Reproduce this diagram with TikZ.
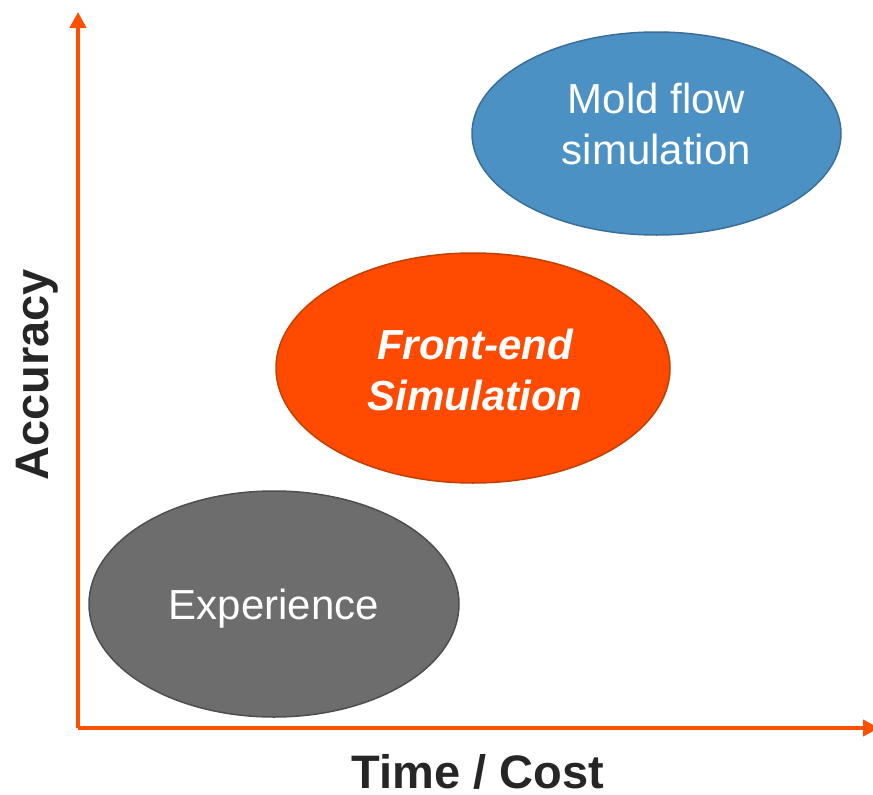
\documentclass[tikz,border=0pt]{standalone}
\usepackage{fontspec}
\setmainfont{Liberation Sans}
\usetikzlibrary{shapes.geometric,arrows.meta}
\definecolor{axisorange}{HTML}{FF5000}
\definecolor{moldblue}{HTML}{4B91C3}
\definecolor{moldedge}{HTML}{3B6E98}
\definecolor{frontorange}{HTML}{FF4A00}
\definecolor{frontedge}{HTML}{C24000}
\definecolor{expgrey}{HTML}{6D6D6D}
\definecolor{expedge}{HTML}{4E4E4E}
\tikzset{
  axis/.style={draw=axisorange, line width=4pt, -{Triangle[width=16pt,length=16pt]}},
  blob/.style={ellipse, inner sep=0pt, line width=1.5pt, fill=none, draw=none},
  blobtext/.style={text=white, align=center, inner sep=0pt,
    font=\fontsize{42}{51}\selectfont},
  axislabel/.style={text=black!85, inner sep=0pt, font=\fontsize{47}{56}\selectfont\bfseries}
}
\begin{document}
\begin{tikzpicture}[x=1pt,y=-1pt]
  \useasboundingbox (0,0) rectangle (873,795);
  % axes
  \coordinate (origin) at (78,728);
  \coordinate (ytip) at (78,12);
  \coordinate (xtip) at (879,728);
  \draw[axis] (origin) -- (ytip);
  \draw[axis] (origin) -- (xtip);
  % methods: ellipse shapes, with their labels set as separate nodes
  \node[blob, fill=moldblue, draw=moldedge, minimum width=369pt, minimum height=203pt]
    (mold) at (656.5,133.5) {};
  \node[blobtext] (moldtext) at ([yshift=10pt]mold.center) {Mold flow\\simulation};
  \node[blob, fill=frontorange, draw=frontedge, minimum width=394pt, minimum height=230pt]
    (front) at (473,368) {};
  \node[blobtext, font=\fontsize{42}{51}\selectfont\bfseries\itshape]
    (fronttext) at ([xshift=2pt,yshift=-2pt]front.center) {Front-end\\Simulation};
  \node[blob, fill=expgrey, draw=expedge, minimum width=370pt, minimum height=226pt]
    (exp) at (274,604) {};
  \node[blobtext] (exptext) at ([yshift=-5pt]exp.center) {Experience};
  % axis labels
  \node[axislabel, rotate=90] (acc) at (37,375) {Accuracy};
  \node[axislabel] (time) at (478,772) {Time / Cost};
\end{tikzpicture}
\end{document}
